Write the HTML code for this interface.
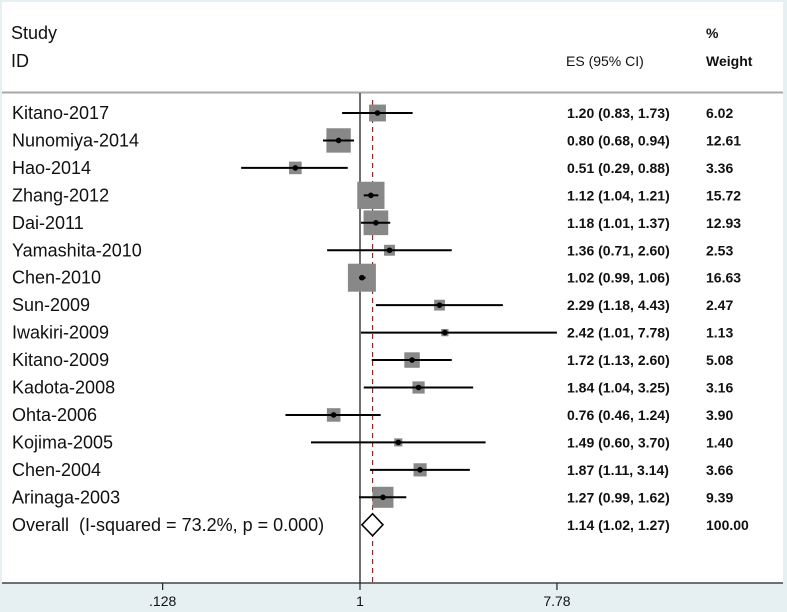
<!DOCTYPE html>
<html><head><meta charset="utf-8"><style>
html,body{margin:0;padding:0;background:#e6eff2}
#wrap{position:relative;width:787px;height:612px;overflow:hidden;background:#e6eff2}
svg text{font-family:"Liberation Sans",Arial,sans-serif}
</style></head><body>
<div id="wrap">
<svg id="chart" width="787" height="612" xmlns="http://www.w3.org/2000/svg">
<rect x="2" y="2" width="781" height="581" fill="#fff"/>
<line x1="2" y1="92.5" x2="783" y2="92.5" stroke="#a8a8a8" stroke-width="2"/>
<text x="11" y="39" font-size="18" fill="#111">Study</text>
<text x="11" y="67" font-size="18" fill="#111">ID</text>
<text x="566" y="66" font-size="14" fill="#111">ES (95% CI)</text>
<text x="706" y="38" font-size="14" font-weight="bold" fill="#111">%</text>
<text x="706" y="66" font-size="14" font-weight="bold" fill="#111">Weight</text>
<g id="marks"></g>
<line x1="2" y1="583" x2="783" y2="583" stroke="#222" stroke-width="1.2"/>
<g id="axis"></g>
</svg>
</div>
<script>
const studies=["Kitano-2017","Nunomiya-2014","Hao-2014","Zhang-2012","Dai-2011","Yamashita-2010","Chen-2010","Sun-2009","Iwakiri-2009","Kitano-2009","Kadota-2008","Ohta-2006","Kojima-2005","Chen-2004","Arinaga-2003"];
const es=[1.20,0.80,0.51,1.12,1.18,1.36,1.02,2.29,2.42,1.72,1.84,0.76,1.49,1.87,1.27];
const lo=[0.83,0.68,0.29,1.04,1.01,0.71,0.99,1.18,1.01,1.13,1.04,0.46,0.60,1.11,0.99];
const hi=[1.73,0.94,0.88,1.21,1.37,2.60,1.06,4.43,7.78,2.60,3.25,1.24,3.70,3.14,1.62];
const weights=["6.02","12.61","3.36","15.72","12.93","2.53","16.63","2.47","1.13","5.08","3.16","3.90","1.40","3.66","9.39"];
const overall=[1.14,1.02,1.27];
const overallLabel="Overall\u00a0\u00a0(I-squared = 73.2%, p = 0.000)";
const tickVals=[0.128,1,7.78];
const tickLabels=[".128","1","7.78"];

const NS="http://www.w3.org/2000/svg";
const x=v=>360+96*Math.log(v);
const y=i=>113+27.45*i;
const marks=document.getElementById('marks');
const axis=document.getElementById('axis');
function mk(tag,attrs,parent){const e=document.createElementNS(NS,tag);for(const k in attrs)e.setAttribute(k,attrs[k]);(parent||marks).appendChild(e);return e;}
const f=v=>v.toFixed(2);

let l=mk('line',{x1:360,y1:93,x2:360,y2:583,stroke:'#222','stroke-width':1.3});


l=mk('line',{x1:x(overall[0]),y1:100,x2:x(overall[0]),y2:583,stroke:'#8b2a2a','stroke-width':1.2,'stroke-dasharray':'5,4'});



studies.forEach((s,i)=>{
  const yy=y(i);
  const sz=28*Math.sqrt(parseFloat(weights[i])/16.63);
  const b=mk('rect',{x:x(es[i])-sz/2,y:yy-sz/2,width:sz,height:sz,fill:'#888'});
  
  
  const c=mk('line',{x1:x(lo[i]),y1:yy,x2:x(hi[i]),y2:yy,stroke:'#000','stroke-width':2});
  
  
  const d=mk('circle',{cx:x(es[i]),cy:yy,r:2.8,fill:'#000'});
  
  
  const t=mk('text',{x:12,y:yy+6,'font-size':18,fill:'#111'});t.textContent=s;
  
  
  const e=mk('text',{x:567,y:yy+5,'font-size':14,'font-weight':'bold',fill:'#111'});
  e.textContent=f(es[i])+' ('+f(lo[i])+', '+f(hi[i])+')';
  
  
  const w=mk('text',{x:706,y:yy+5,'font-size':14,'font-weight':'bold',fill:'#111'});w.textContent=weights[i];
  
  
});
const oy=y(studies.length);
const dm=mk('polygon',{points:`${x(overall[1])},${oy} ${x(overall[0])},${oy-11} ${x(overall[2])},${oy} ${x(overall[0])},${oy+11}`,fill:'#fff',stroke:'#000','stroke-width':1.6});


let t=mk('text',{x:12,y:oy+6,'font-size':18,fill:'#111'});t.textContent=overallLabel;


t=mk('text',{x:567,y:oy+5,'font-size':14,'font-weight':'bold',fill:'#111'});
t.textContent=f(overall[0])+' ('+f(overall[1])+', '+f(overall[2])+')';


t=mk('text',{x:706,y:oy+5,'font-size':14,'font-weight':'bold',fill:'#111'});t.textContent="100.00";



tickVals.forEach((v,i)=>{
  const tk=mk('line',{x1:x(v),y1:583,x2:x(v),y2:590,stroke:'#222','stroke-width':1.2},axis);
  
  
  const tl=mk('text',{x:x(v),y:606,'font-size':14,'text-anchor':'middle',fill:'#111'},axis);
  tl.textContent=tickLabels[i];
  
  
});
</script>
</body></html>
